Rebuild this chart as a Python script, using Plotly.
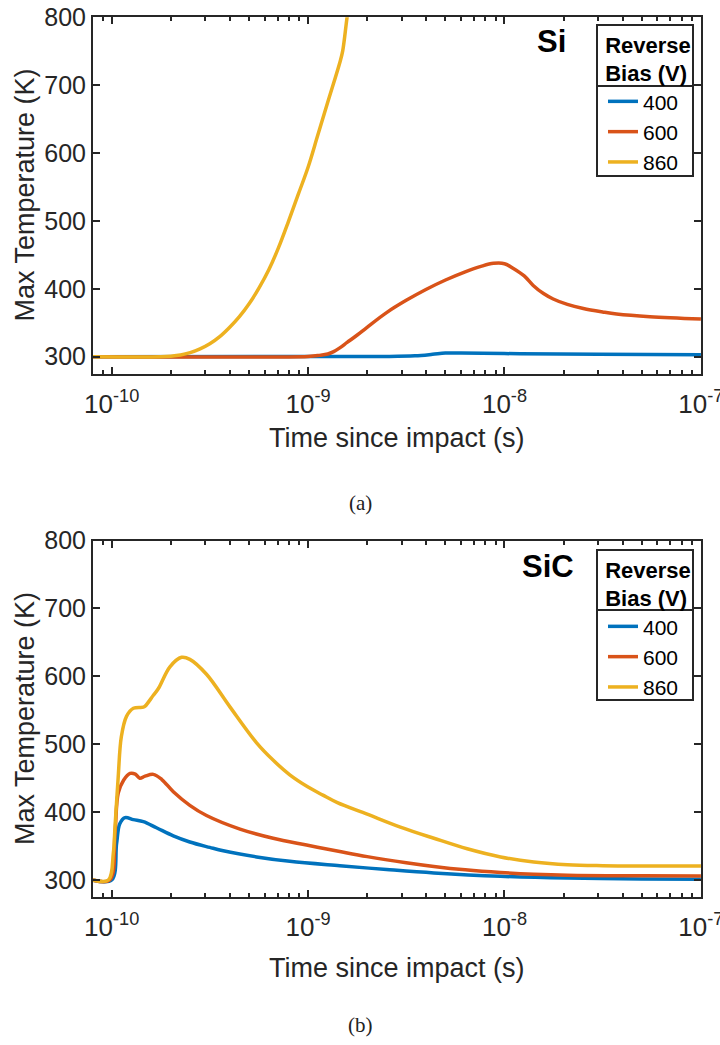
import plotly.graph_objects as go

# ---------------- data ----------------
bias_labels = ["400", "600", "860"]
colors = ["#0072BD", "#D95319", "#EDB120"]

# Si (panel a)
si_t_400 = [8.0e-11, 2.5e-9, 3.5e-9, 4.3e-9, 5.0e-9, 6.0e-9, 1.2e-8, 3.0e-8, 1.0e-7]
si_T_400 = [300.0, 300.3, 301.3, 303.5, 305.5, 305.4, 304.4, 303.5, 303.0]

si_t_600 = [8.0e-11, 1.0e-9, 1.14e-9, 1.26e-9, 1.35e-9, 1.45e-9, 1.58e-9, 1.78e-9, 1.99e-9,
            2.51e-9, 3.16e-9, 3.98e-9, 5.01e-9, 6.31e-9, 7.59e-9, 8.79e-9, 1.0e-8, 1.11e-8,
            1.26e-8, 1.40e-8, 1.58e-8, 1.77e-8, 2.09e-8, 2.52e-8, 3.16e-8, 3.72e-8, 5.50e-8,
            1.0e-7]
si_T_600 = [300.0, 300.5, 302.0, 304.0, 307.5, 313.0, 321.0, 332.0, 343.0,
            365.0, 383.0, 399.0, 413.0, 425.0, 433.0, 437.5, 437.0, 430.0,
            419.0, 405.0, 393.0, 385.0, 377.0, 371.0, 366.0, 363.0, 359.0,
            355.6]

si_t_860 = [8.0e-11, 1.78e-10, 2.00e-10, 2.24e-10, 2.51e-10, 2.82e-10, 3.16e-10, 3.55e-10,
            3.98e-10, 4.47e-10, 5.01e-10, 5.62e-10, 6.31e-10, 7.08e-10, 7.94e-10, 8.91e-10,
            1.00e-9, 1.12e-9, 1.26e-9, 1.45e-9, 1.50e-9, 1.58e-9, 1.64e-9]
si_T_860 = [300.0, 300.0, 300.8, 302.5, 306.0, 311.5, 319.0, 329.5,
            343.0, 359.0, 378.0, 401.0, 428.0, 461.0, 499.0, 539.0,
            579.0, 626.0, 675.0, 733.0, 750.0, 800.0, 830.0]

# SiC (panel b)
sic_t_400 = [8.0e-11, 1.0e-10, 1.06e-10, 1.10e-10, 1.17e-10, 1.29e-10, 1.45e-10, 1.69e-10,
             2.06e-10, 2.50e-10, 3.16e-10, 3.70e-10, 5.47e-10, 8.07e-10, 1.45e-9, 2.51e-9,
             4.37e-9, 9.55e-9, 2.09e-8, 5.0e-8, 1.0e-7]
sic_T_400 = [300.0, 300.0, 354.0, 383.0, 392.0, 389.0, 386.0, 377.0,
             365.0, 356.0, 348.0, 343.0, 334.0, 327.5, 321.0, 315.5,
             310.5, 305.5, 302.8, 301.5, 301.0]

sic_t_600 = [8.0e-11, 9.79e-11, 1.04e-10, 1.08e-10, 1.15e-10, 1.24e-10, 1.32e-10, 1.39e-10,
             1.48e-10, 1.63e-10, 1.80e-10, 2.06e-10, 2.50e-10, 3.04e-10, 4.50e-10, 6.64e-10,
             9.82e-10, 1.45e-9, 2.0e-9, 3.16e-9, 4.37e-9, 6.31e-9, 9.55e-9, 1.41e-8, 2.09e-8,
             5.0e-8, 1.0e-7]
sic_T_600 = [300.0, 300.0, 369.0, 428.0, 447.0, 457.0, 456.0, 450.0,
             453.0, 455.6, 448.0, 430.0, 410.0, 395.0, 375.0, 361.5,
             351.5, 342.0, 334.5, 325.5, 320.0, 315.0, 311.0, 308.5, 307.0,
             306.2, 306.0]

sic_t_860 = [8.0e-11, 9.62e-11, 1.02e-10, 1.04e-10, 1.08e-10, 1.12e-10, 1.19e-10, 1.29e-10,
             1.45e-10, 1.48e-10, 1.63e-10, 1.73e-10, 1.98e-10, 2.27e-10, 2.50e-10, 3.04e-10,
             4.00e-10, 5.47e-10, 6.61e-10, 8.07e-10, 1.0e-9, 1.19e-9, 1.41e-9, 2.0e-9, 2.95e-9,
             4.37e-9, 6.46e-9, 9.55e-9, 1.41e-8, 2.09e-8, 3.16e-8, 1.0e-7]
sic_T_860 = [300.0, 300.0, 340.0, 378.0, 452.0, 511.0, 541.0, 553.0,
             554.5, 556.0, 572.0, 582.0, 614.0, 628.0, 625.0, 603.0,
             555.0, 502.0, 477.0, 455.0, 437.0, 425.0, 414.0, 397.0, 378.0,
             361.5, 346.0, 334.0, 326.5, 322.5, 321.2, 320.5]

x_tickvals = [1e-10, 1e-9, 1e-8, 1e-7]
x_ticktext = ["10<sup>-10</sup>", "10<sup>-9</sup>", "10<sup>-8</sup>", "10<sup>-7</sup>"]
x_minor = [m * 10.0 ** e for e in (-11, -10, -9, -8) for m in range(2, 10)]
y_tickvals = [300, 400, 500, 600, 700, 800]
panel_names = ["Si", "SiC"]
panel_tags = ["(a)", "(b)"]

# ---------------- figure ----------------
W, H = 720, 1045
FONT = "Liberation Sans, Arial, sans-serif"
AXC = "#262626"

fig = go.Figure()

top_series = [(si_t_400, si_T_400), (si_t_600, si_T_600), (si_t_860, si_T_860)]
bot_series = [(sic_t_400, sic_T_400), (sic_t_600, sic_T_600), (sic_t_860, sic_T_860)]

for i, (t, T) in enumerate(top_series):
    fig.add_trace(go.Scatter(x=t, y=T, mode="lines", name=bias_labels[i],
                             line=dict(color=colors[i], width=3.5, shape="spline", smoothing=1.0),
                             xaxis="x", yaxis="y", legend="legend"))
for i, (t, T) in enumerate(bot_series):
    fig.add_trace(go.Scatter(x=t, y=T, mode="lines", name=bias_labels[i],
                             line=dict(color=colors[i], width=3.5, shape="spline", smoothing=1.0),
                             xaxis="x2", yaxis="y2", legend="legend2"))


def px_x(p):
    return p / W


def px_y(p):
    return 1 - p / H


xdom = [93 / W, 701 / W]
ydom_top = [px_y(373.7), px_y(17.2)]
ydom_bot = [px_y(897.0), px_y(540.5)]
XR = [-10.095, -6.9995]


def xaxis_cfg(anchor):
    return dict(type="log", range=XR, domain=xdom, anchor=anchor,
                tickmode="array", tickvals=x_tickvals, ticktext=x_ticktext,
                ticks="inside", ticklen=7, tickwidth=2, tickcolor=AXC,
                minor=dict(tickmode="array", tickvals=x_minor, ticks="inside",
                           ticklen=4, tickwidth=2, tickcolor=AXC, showgrid=False),
                showline=True, linecolor=AXC, linewidth=2, mirror="ticks",
                showgrid=False, zeroline=False, automargin=False,
                ticklabeloverflow="allow", ticklabelstandoff=6,
                tickfont=dict(family=FONT, size=26, color=AXC))


def yaxis_cfg(anchor, dom):
    return dict(range=[275, 800], domain=dom, anchor=anchor,
                tickmode="array", tickvals=y_tickvals,
                ticks="inside", ticklen=7, tickwidth=2, tickcolor=AXC,
                showline=True, linecolor=AXC, linewidth=2, mirror="ticks",
                showgrid=False, zeroline=False, automargin=False,
                ticklabeloverflow="allow",
                tickfont=dict(family=FONT, size=25, color=AXC))


legend_common = dict(xanchor="left", yanchor="top", bgcolor="rgba(0,0,0,0)",
                     borderwidth=0, font=dict(family=FONT, size=21, color="black"),
                     itemwidth=30, tracegroupgap=0,
                     title=dict(text="<b>Reverse<br>Bias (V)</b>", side="top center",
                                font=dict(family=FONT, size=22, color="black")))

fig.update_layout(
    width=W, height=H,
    margin=dict(l=0, r=0, t=0, b=0),
    paper_bgcolor="white", plot_bgcolor="white",
    xaxis=xaxis_cfg("y"), yaxis=yaxis_cfg("x", ydom_top),
    xaxis2=xaxis_cfg("y2"), yaxis2=yaxis_cfg("x2", ydom_bot),
    legend=dict(x=px_x(603), y=px_y(24), **legend_common),
    legend2=dict(x=px_x(603), y=px_y(549), **legend_common),
    showlegend=True,
)

# legend frames (box + separator under the title)
for (y0, ysep, y1) in [(25, 86, 176), (550, 610, 700)]:
    fig.add_shape(type="rect", xref="paper", yref="paper",
                  x0=px_x(597), x1=px_x(693), y0=px_y(y1), y1=px_y(y0),
                  line=dict(color=AXC, width=2), fillcolor="white", layer="above")
    fig.add_shape(type="line", xref="paper", yref="paper",
                  x0=px_x(597), x1=px_x(693), y0=px_y(ysep), y1=px_y(ysep),
                  line=dict(color=AXC, width=2), layer="above")

annos = []
for (yc_axes, yc_title, name, xn, yn) in [
        (195.5, 438, panel_names[0], 551, 42),
        (719.0, 968, panel_names[1], 548, 566)]:
    annos.append(dict(text="Max Temperature (K)", x=px_x(25), y=px_y(yc_axes), xref="paper",
                      yref="paper", textangle=-90, showarrow=False, xanchor="center",
                      yanchor="middle", font=dict(family=FONT, size=27, color=AXC)))
    annos.append(dict(text="Time since impact (s)", x=px_x(397), y=px_y(yc_title), xref="paper",
                      yref="paper", showarrow=False, xanchor="center", yanchor="middle",
                      font=dict(family=FONT, size=27, color=AXC)))
    annos.append(dict(text=name, x=px_x(xn), y=px_y(yn), xref="paper", yref="paper",
                      showarrow=False, xanchor="center", yanchor="middle",
                      font=dict(family=FONT, size=31, color="black", weight="bold")))
annos.append(dict(text=panel_tags[0], x=px_x(360), y=px_y(503), xref="paper", yref="paper",
                  showarrow=False, xanchor="center", yanchor="middle",
                  font=dict(family="Liberation Serif, serif", size=21, color="#222")))
annos.append(dict(text=panel_tags[1], x=px_x(360), y=px_y(1025), xref="paper", yref="paper",
                  showarrow=False, xanchor="center", yanchor="middle",
                  font=dict(family="Liberation Serif, serif", size=21, color="#222")))
fig.update_layout(annotations=annos)

fig.write_html("out.html")
